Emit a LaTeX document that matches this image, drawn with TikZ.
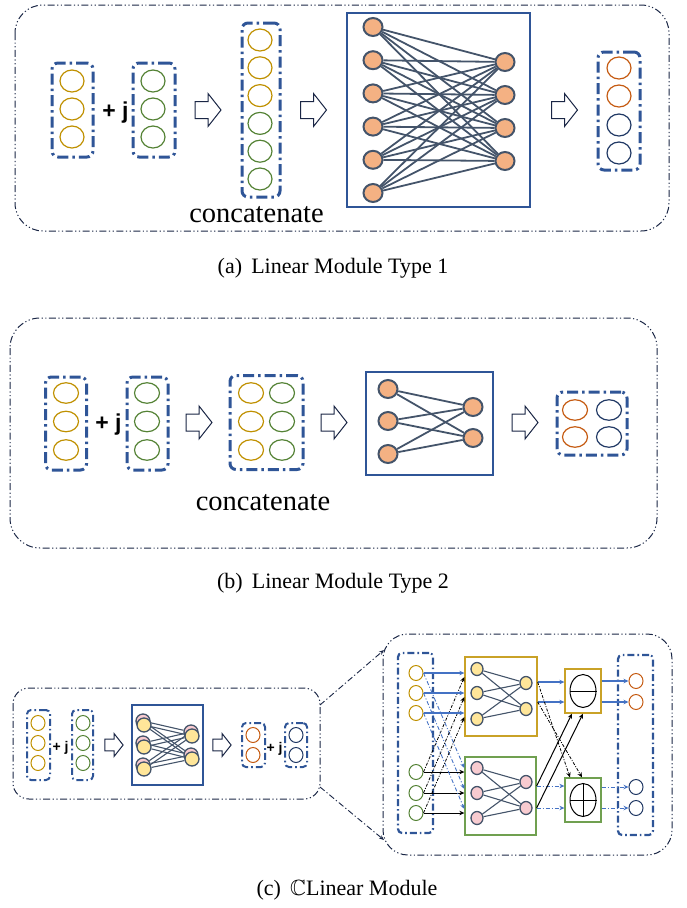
\documentclass[tikz,border=0pt]{standalone}
\usepackage{fontspec}
\setmainfont{Liberation Serif}
\newfontfamily\sansbold{Liberation Sans}
\usepackage{amssymb}
\usetikzlibrary{shapes.geometric,arrows.meta,calc}
\pgfdeclarelayer{bg}
\pgfsetlayers{bg,main}
\definecolor{navy}{HTML}{1A2645}
\definecolor{boxblue}{HTML}{2F5597}
\definecolor{gold}{HTML}{BF9000}
\definecolor{grn}{HTML}{548235}
\definecolor{lgrn}{HTML}{70A050}
\definecolor{org}{HTML}{C55A11}
\definecolor{dnavy}{HTML}{203864}
\definecolor{nodefill}{HTML}{F4B183}
\definecolor{edgec}{HTML}{44546A}
\definecolor{arrblue}{HTML}{4472C4}
\definecolor{yel}{HTML}{FFE699}
\definecolor{pinkn}{HTML}{F8CBD0}
\definecolor{goldbox}{HTML}{C9A227}
\tikzset{
  outerbox/.style={draw=navy, line width=1pt, dash pattern=on 7pt off 2.5pt on 1.2pt off 2.5pt on 1.2pt off 2.5pt},
  vecbox/.style={rectangle, draw=boxblue, line width=3pt, dash pattern=on 11pt off 4pt on 2.5pt off 4pt, rounded corners=6pt, inner sep=0pt},
  vecboxs/.style={rectangle, draw=boxblue, line width=2pt, dash pattern=on 7pt off 3pt on 1.6pt off 3pt, rounded corners=4pt, inner sep=0pt},
  bigcell/.style={ellipse, draw, line width=1.2pt, minimum width=24pt, minimum height=22pt, inner sep=0pt},
  widecell/.style={ellipse, draw, line width=1.2pt, minimum width=25pt, minimum height=20.5pt, inner sep=0pt},
  smallcell/.style={ellipse, draw, line width=1pt, minimum width=14pt, minimum height=15pt, inner sep=0pt},
  neuron/.style={ellipse, draw=edgec, fill=nodefill, line width=2pt, minimum width=19pt, minimum height=18pt, inner sep=0pt},
  neuronsm/.style={ellipse, draw=edgec, line width=1.3pt, minimum width=12pt, minimum height=13pt, inner sep=0pt},
  netedge/.style={draw=edgec, line width=1.8pt},
  netedgesm/.style={draw=edgec, line width=1.1pt},
  netbox/.style={rectangle, draw=boxblue, line width=1.3pt, inner sep=0pt},
  plainbox/.style={rectangle, line width=1.3pt, inner sep=0pt},
  pjbig/.style={font=\sansbold\bfseries\fontsize{23}{23}\selectfont, anchor=base, inner sep=0pt},
  pjsmall/.style={font=\sansbold\bfseries\fontsize{14}{14}\selectfont, anchor=base, inner sep=0pt},
  concattxt/.style={font=\fontsize{28.5}{30}\selectfont, anchor=base, inner sep=0pt},
  captxt/.style={font=\fontsize{22}{26}\selectfont, anchor=base, inner sep=0pt},
  hollowarrow/.pic={\draw[draw=navy, fill=white, line width=1pt, line join=miter]
     (-13,-8.5) -- (0,-8.5) -- (0,-16.5) -- (13,0) -- (0,16.5) -- (0,8.5) -- (-13,8.5) -- cycle;},
  mytip/.style={-{Stealth[length=5pt,width=4.5pt]}},
  bluearr/.style={draw=arrblue, line width=1.3pt, mytip},
  bluedd/.style={draw=arrblue, line width=0.9pt, dash pattern=on 4pt off 2pt on 1pt off 2pt, mytip},
  blackarr/.style={draw=black, line width=1pt, mytip},
  blackdd/.style={draw=black, line width=0.8pt, dash pattern=on 3pt off 1.5pt on 1pt off 1.5pt, mytip},
  zoomline/.style={draw=navy, line width=0.9pt, dash pattern=on 6pt off 2.5pt on 1.2pt off 2.5pt, -{Stealth[length=5pt,width=4pt]}}
}
\begin{document}
\begin{tikzpicture}[x=1pt,y=-1pt]
\useasboundingbox (0,0) rectangle (686,908);

% ================= Panel (a) =================
\draw[outerbox, rounded corners=28pt] (15,5) rectangle (669,231);
\node[vecbox, minimum width=41pt, minimum height=94pt] (a1box) at (72.5,110) {};
\foreach \y [count=\i] in {81,109,137} \node[bigcell, draw=gold] (a1c\i) at (72,\y) {};
\node[pjbig] (apj) at (115.5,118) {+ j};
\node[vecbox, minimum width=42pt, minimum height=94pt] (a2box) at (154,110) {};
\foreach \y [count=\i] in {81,109,137} \node[bigcell, draw=grn] (a2c\i) at (153,\y) {};
\path (208,110) pic {hollowarrow};
\node[vecbox, minimum width=38pt, minimum height=174pt] (acbox) at (261,110) {};
\foreach \y [count=\i] in {40,67.8,95.6,123.4,151.2,179} {
  \ifnum\i<4 \node[bigcell, draw=gold] (acc\i) at (260,\y) {};
  \else \node[bigcell, draw=grn] (acc\i) at (260,\y) {}; \fi }
\node[concattxt] (aconcat) at (256.5,222) {concatenate};
\path (313.5,110) pic {hollowarrow};
\node[netbox, minimum width=183pt, minimum height=194pt] (anet) at (438.5,110) {};
\foreach \y [count=\i] in {27,60.2,93.4,126.6,159.8,193} \node[neuron] (aL\i) at (373,\y) {};
\foreach \y [count=\i] in {62,95,128,161} \node[neuron] (aR\i) at (505,\y) {};
\begin{pgfonlayer}{bg}
\foreach \i in {1,...,6} \foreach \j in {1,...,4} \draw[netedge] (aL\i) -- (aR\j);
\end{pgfonlayer}
\path (564.5,110) pic {hollowarrow};
\node[vecbox, minimum width=42pt, minimum height=118pt] (aout) at (619,111) {};
\node[bigcell, draw=org] (ao1) at (619,68) {};
\node[bigcell, draw=org] (ao2) at (619,96) {};
\node[bigcell, draw=dnavy] (ao3) at (619,125) {};
\node[bigcell, draw=dnavy] (ao4) at (619,153) {};
\node[captxt] (capa) at (333,273) {(a)\, Linear Module Type 1};

% ================= Panel (b) =================
\draw[outerbox, rounded corners=30pt] (10,318) rectangle (657,548);
\node[vecbox, minimum width=41pt, minimum height=93pt] (b1box) at (66,423.5) {};
\foreach \y [count=\i] in {393,421.5,450} \node[widecell, draw=gold] (b1c\i) at (66,\y) {};
\node[pjbig] (bpj) at (108.5,430) {+ j};
\node[vecbox, minimum width=41pt, minimum height=93pt] (b2box) at (147.5,423.5) {};
\foreach \y [count=\i] in {393,421.5,450} \node[widecell, draw=grn] (b2c\i) at (147,\y) {};
\path (199,422.5) pic {hollowarrow};
\node[vecbox, minimum width=73pt, minimum height=94pt] (bcbox) at (266.5,422.5) {};
\foreach \y [count=\i] in {393,421.5,450} {
  \node[widecell, draw=gold] (bcg\i) at (251,\y) {};
  \node[widecell, draw=grn] (bcn\i) at (282,\y) {}; }
\node[concattxt] (bconcat) at (263,510) {concatenate};
\path (334,422.5) pic {hollowarrow};
\node[netbox, minimum width=127pt, minimum height=103pt] (bnet) at (429.5,423.5) {};
\foreach \y [count=\i] in {389,421,454} \node[neuron] (bL\i) at (388,\y) {};
\foreach \y [count=\i] in {407,438} \node[neuron] (bR\i) at (473,\y) {};
\begin{pgfonlayer}{bg}
\foreach \i in {1,2,3} \foreach \j in {1,2} \draw[netedge] (bL\i) -- (bR\j);
\end{pgfonlayer}
\path (525,422.5) pic {hollowarrow};
\node[vecbox, minimum width=70pt, minimum height=63pt] (bout) at (592,423.5) {};
\foreach \y [count=\i] in {410,437} {
  \node[widecell, draw=org] (bo\i) at (575,\y) {};
  \node[widecell, draw=dnavy] (bv\i) at (609,\y) {}; }
\node[captxt] (capb) at (333,588) {(b)\, Linear Module Type 2};

% ================= Panel (c) left =================
\draw[outerbox, rounded corners=16pt] (13,688) rectangle (320,799);
\node[vecboxs, minimum width=23pt, minimum height=70pt] (c1box) at (38.5,745) {};
\foreach \y [count=\i] in {723,743,763} \node[smallcell, draw=gold] (c1c\i) at (38,\y) {};
\node[pjsmall] (cpj1) at (60.5,751) {+ j};
\node[vecboxs, minimum width=21pt, minimum height=70pt] (c2box) at (82.5,745) {};
\foreach \y [count=\i] in {723,743,763} \node[smallcell, draw=grn] (c2c\i) at (83,\y) {};
\path (114,745) pic[scale=0.7] {hollowarrow};
\node[netbox, line width=1.1pt, minimum width=71pt, minimum height=80pt] (cnet) at (167.5,745) {};
\foreach \y [count=\i] in {725,747,769} {
  \node[neuronsm, fill=pinkn, minimum width=14pt, minimum height=14pt] (cpL\i) at (143,\y-4) {};
  \node[neuronsm, fill=yel, minimum width=14pt, minimum height=14pt] (cyL\i) at (144,\y) {}; }
\foreach \y [count=\i] in {736,759} {
  \node[neuronsm, fill=pinkn, minimum width=14pt, minimum height=14pt] (cpR\i) at (191,\y-4) {};
  \node[neuronsm, fill=yel, minimum width=14pt, minimum height=14pt] (cyR\i) at (192,\y) {}; }
\begin{pgfonlayer}{bg}
\foreach \i in {1,2,3} \foreach \j in {1,2} {
  \draw[netedgesm] (cpL\i) -- (cpR\j);
  \draw[netedgesm] (cyL\i) -- (cyR\j); }
\end{pgfonlayer}
\path (222,745) pic[scale=0.7] {hollowarrow};
\node[vecboxs, minimum width=23pt, minimum height=44pt] (co1box) at (253.5,745) {};
\node[smallcell, draw=org] (co1a) at (253,735) {};
\node[smallcell, draw=org] (co1b) at (253,755) {};
\node[pjsmall] (cpj2) at (274.5,752) {+ j};
\node[vecboxs, minimum width=22pt, minimum height=44pt] (co2box) at (296,745) {};
\node[smallcell, draw=dnavy] (co2a) at (296,735) {};
\node[smallcell, draw=dnavy] (co2b) at (296,755) {};

% zoom connectors
\coordinate (zs1) at (320,705);
\coordinate (zs2) at (320,787);
\coordinate (ze1) at (384,650);
\coordinate (ze2) at (384,840);
\draw[zoomline] (zs1) -- (ze1);
\draw[zoomline] (zs2) -- (ze2);

% ================= Panel (c) right =================
\draw[outerbox, rounded corners=25pt] (383,634) rectangle (672,855);
\node[vecboxs, line width=2.2pt, minimum width=35pt, minimum height=180pt] (cin) at (415.5,743) {};
\foreach \y [count=\i] in {673,693,713} \node[smallcell, draw=gold] (cg\i) at (416,\y) {};
\foreach \y [count=\i] in {772,793,813} \node[smallcell, draw=grn] (cn\i) at (416,\y) {};
\node[plainbox, draw=goldbox, minimum width=72pt, minimum height=79pt] (ubox) at (501,696.5) {};
\node[plainbox, draw=lgrn, minimum width=71pt, minimum height=78pt] (lbox) at (500.5,796) {};
\foreach \y [count=\i] in {669,693,719} \node[neuronsm, fill=yel] (uL\i) at (477,\y) {};
\foreach \y [count=\i] in {683,709} \node[neuronsm, fill=yel] (uR\i) at (526,\y) {};
\foreach \y [count=\i] in {768,793,818} \node[neuronsm, fill=pinkn] (lL\i) at (477,\y) {};
\foreach \y [count=\i] in {782,808} \node[neuronsm, fill=pinkn] (lR\i) at (526,\y) {};
\begin{pgfonlayer}{bg}
\foreach \i in {1,2,3} \foreach \j in {1,2} {
  \draw[netedgesm] (uL\i) -- (uR\j);
  \draw[netedgesm] (lL\i) -- (lR\j); }
\end{pgfonlayer}
\node[plainbox, draw=goldbox, minimum width=36pt, minimum height=44pt] (mbox) at (583,691) {};
\node[ellipse, draw=black, line width=1pt, minimum width=26pt, minimum height=33pt, inner sep=0pt] (mop) at (583,691) {};
\draw[line width=1pt] (mop.west) -- (mop.east);
\node[plainbox, draw=lgrn, minimum width=36pt, minimum height=44pt] (pbox) at (583,800) {};
\node[ellipse, draw=black, line width=1pt, minimum width=26pt, minimum height=33pt, inner sep=0pt] (pop) at (583,800) {};
\draw[line width=1pt] (pop.west) -- (pop.east);
\draw[line width=1pt] (pop.north) -- (pop.south);
\node[vecboxs, line width=2.2pt, minimum width=35pt, minimum height=180pt] (cout) at (635.5,745) {};
\node[smallcell, draw=org] (co1) at (636,681) {};
\node[smallcell, draw=org] (co2) at (636,702) {};
\node[smallcell, draw=dnavy] (cv1) at (636,787) {};
\node[smallcell, draw=dnavy] (cv2) at (636,808) {};

% input arrows
\foreach \i in {1,2,3} {
  \draw[bluearr] (cg\i.east) -- (cg\i.east -| ubox.west);
  \draw[blackarr] (cn\i.east) -- (cn\i.east -| lbox.west);
  \draw[bluedd] (cg\i.east) -- ($(cn\i.east -| lbox.west)+(0,-4)$);
  \draw[blackdd] (cn\i.east) -- ($(cg\i.east -| ubox.west)+(0,4)$);
}
% middle arrows
\coordinate (mi1) at ($(mbox.west)+(0,-9)$);
\coordinate (mi2) at ($(mbox.west)+(0,11)$);
\coordinate (pi1) at ($(pbox.west)+(0,-14)$);
\coordinate (pi2) at ($(pbox.west)+(0,8)$);
\draw[bluearr] (mi1 -| ubox.east) -- (mi1);
\draw[bluearr] (mi2 -| ubox.east) -- (mi2);
\draw[bluedd] (pi1 -| lbox.east) -- (pi1);
\draw[bluedd] (pi2 -| lbox.east) -- (pi2);
\draw[blackdd] (mi1 -| ubox.east) -- ($(pbox.north)+(-13,0)$);
\draw[blackdd] (mi2 -| ubox.east) -- ($(pbox.north)+(-1,0)$);
\draw[blackarr] (pi1 -| lbox.east) -- ($(mbox.south)+(-11,0)$);
\draw[blackarr] (pi2 -| lbox.east) -- ($(mbox.south)+(0,0)$);
% output arrows
\foreach \i in {1,2} {
  \draw[bluearr] (mbox.east |- co\i) -- (co\i.west);
  \draw[bluedd] (pbox.east |- cv\i) -- (cv\i.west);
}
\node[captxt] (capc) at (347,895) {(c)\, $\mathbb{C}$Linear Module};
\end{tikzpicture}
\end{document}
